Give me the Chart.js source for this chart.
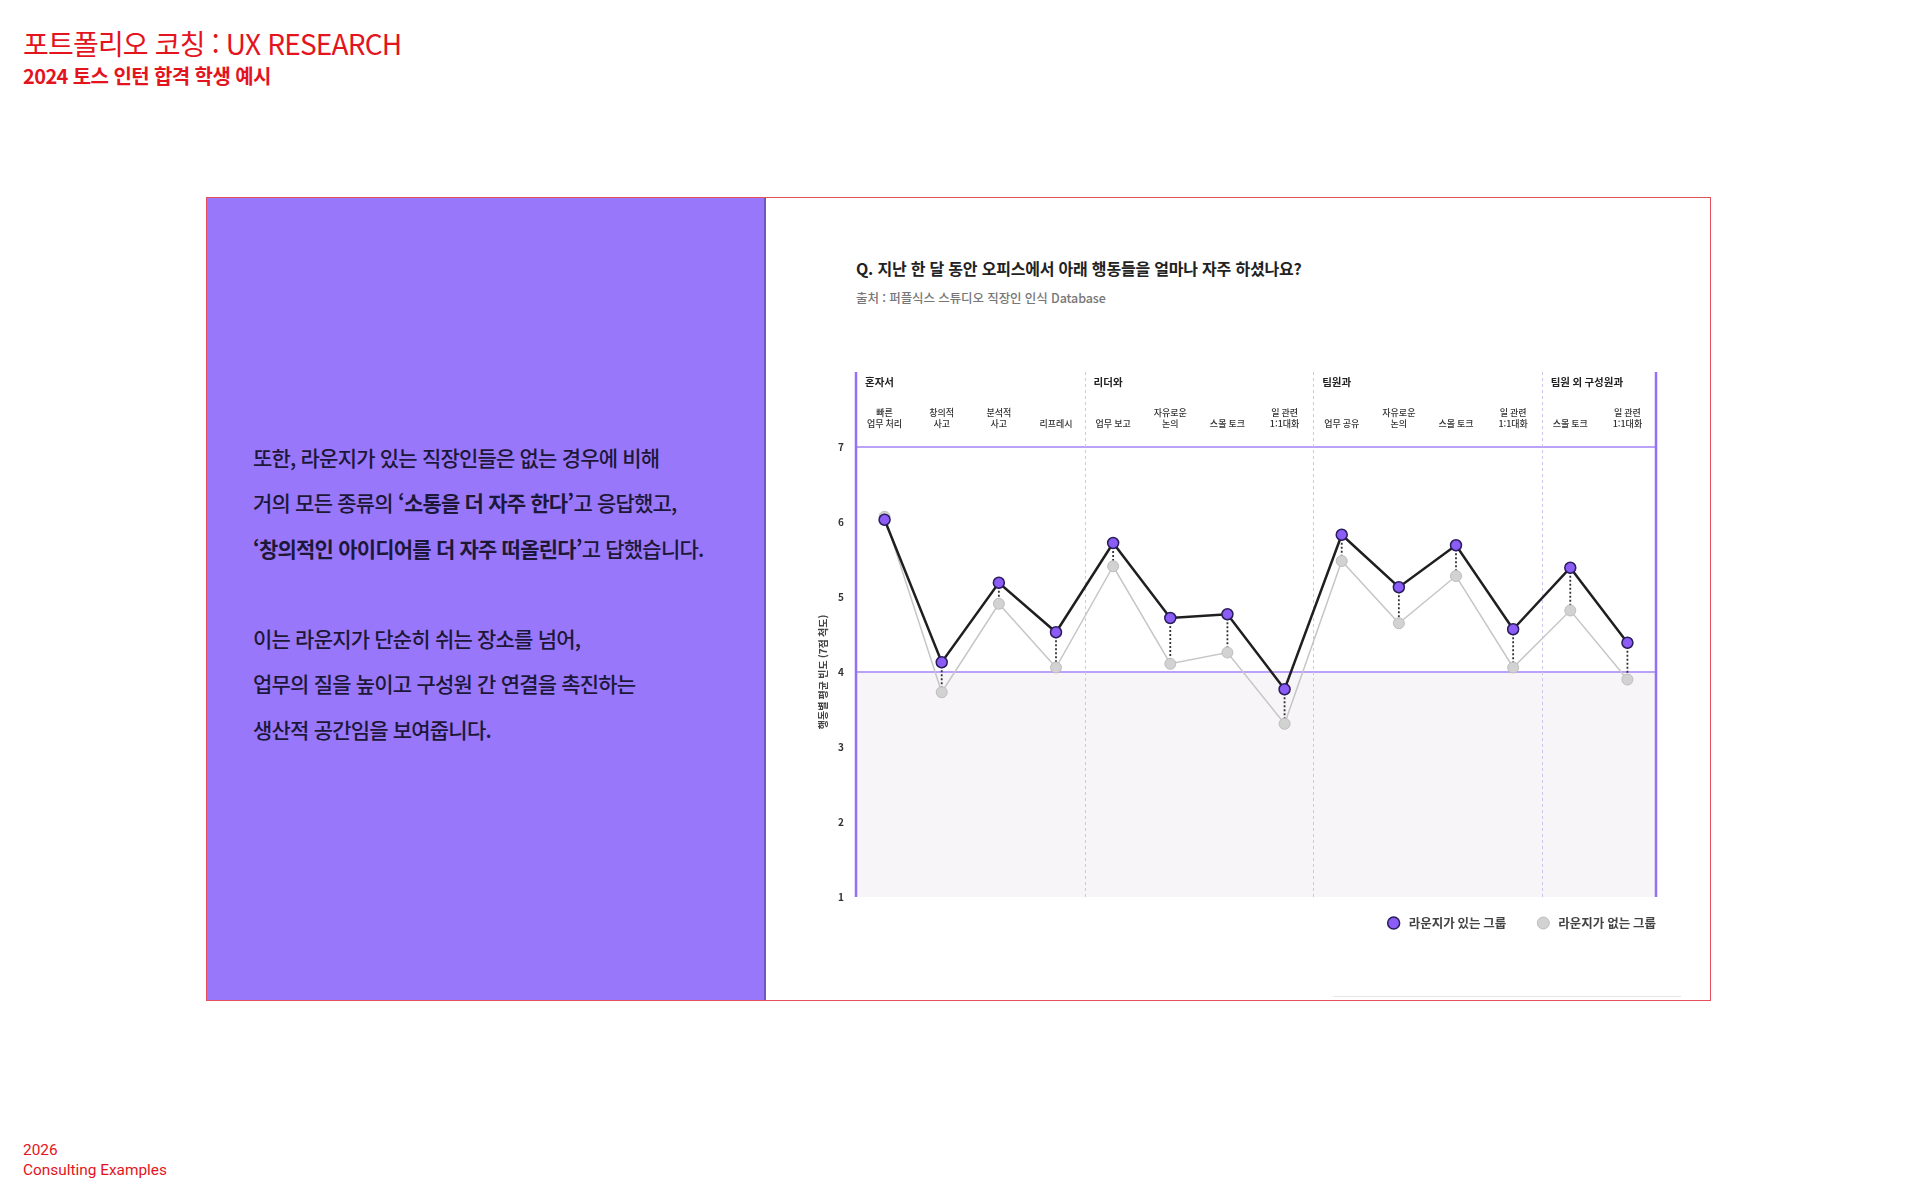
<!DOCTYPE html>
<html lang="ko">
<head>
<meta charset="utf-8">
<title>포트폴리오 코칭 : UX RESEARCH</title>
<script src="https://cdn.jsdelivr.net/npm/chart.js@4.4.1/dist/chart.umd.min.js"></script>
<style>
  html, body { margin: 0; padding: 0; background: #fff; }
  body {
    width: 1919px; height: 1199px; position: relative; overflow: hidden;
    font-family: "Noto Sans CJK KR", "Noto Sans", sans-serif;
  }
  .head { position: absolute; left: 23px; top: 23px; color: #e3141d; }
  .head h1 { margin: 0; font-size: 28px; font-weight: 400; letter-spacing: -0.8px; line-height: 40px; }
  .head h2 { margin: 0; font-size: 20px; font-weight: 700; letter-spacing: -0.6px; line-height: 26px; }
  .foot {
    position: absolute; left: 23px; top: 1141px; color: #e3141d;
    font-family: Roboto, "Noto Sans", sans-serif; font-size: 15.4px; line-height: 19.5px;
  }
  .panel {
    position: absolute; left: 206px; top: 197px; width: 1505px; height: 804px;
    border: 1px solid #e4505c; box-sizing: border-box; background: #fff;
  }
  .side {
    position: absolute; left: 0; top: 0; width: 559px; height: 100%;
    background: #9977fb; border-right: 2px solid #6d57c2; box-sizing: border-box;
  }
  .side p {
    position: absolute; left: 46px; top: 237px; margin: 0;
    font-size: 21px; font-weight: 500; letter-spacing: -0.8px; line-height: 45.3px;
    color: #1d1838; white-space: nowrap;
  }
  .side b { font-weight: 700; }
  .qtitle {
    position: absolute; left: 649px; top: 58px; margin: 0;
    font-size: 16px; font-weight: 700; color: #222; letter-spacing: -0.2px; line-height: 24px;
  }
  .qsrc {
    position: absolute; left: 649px; top: 91px; margin: 0;
    font-size: 12.5px; font-weight: 500; color: #777; letter-spacing: -0.1px; line-height: 18px;
  }
  .rule { position: absolute; left: 1126px; top: 798px; width: 348px; height: 1px; background: #e6e6e6; }
  #chart { position: absolute; left: 800px; top: 360px; }
</style>
</head>
<body>
<div class="head">
  <h1>포트폴리오 코칭 : UX RESEARCH</h1>
  <h2>2024 토스 인턴 합격 학생 예시</h2>
</div>

<div class="panel">
  <div class="side">
    <p>또한, 라운지가 있는 직장인들은 없는 경우에 비해<br>
    거의 모든 종류의 <b>‘소통을 더 자주 한다’</b>고 응답했고,<br>
    <b>‘창의적인 아이디어를 더 자주 떠올린다’</b>고 답했습니다.<br>
    <br>
    이는 라운지가 단순히 쉬는 장소를 넘어,<br>
    업무의 질을 높이고 구성원 간 연결을 촉진하는<br>
    생산적 공간임을 보여줍니다.</p>
  </div>
  <p class="qtitle">Q. 지난 한 달 동안 오피스에서 아래 행동들을 얼마나 자주 하셨나요?</p>
  <p class="qsrc">출처 : 퍼플식스 스튜디오 직장인 인식 Database</p>
  <div class="rule"></div>
</div>

<canvas id="chart" width="880" height="600"></canvas>

<div class="foot">2026<br>Consulting Examples</div>

<script>
// categories (multi-line labels) and their groups
const categories = [
  ['빠른', '업무 처리'], ['창의적', '사고'], ['분석적', '사고'], ['리프레시'],
  ['업무 보고'], ['자유로운', '논의'], ['스몰 토크'], ['일 관련', '1:1대화'],
  ['업무 공유'], ['자유로운', '논의'], ['스몰 토크'], ['일 관련', '1:1대화'],
  ['스몰 토크'], ['일 관련', '1:1대화']
];
const groupLabels = ['혼자서', '리더와', '팀원과', '팀원 외 구성원과'];
const groupStarts = [0, 4, 8, 12];

// average frequency (7-point scale)
const withLounge = [6.03, 4.13, 5.19, 4.53, 5.72, 4.72, 4.77, 3.77, 5.83, 5.13, 5.69, 4.57, 5.39, 4.39];
const withoutLounge = [6.07, 3.73, 4.91, 4.06, 5.41, 4.11, 4.26, 3.31, 5.48, 4.65, 5.28, 4.06, 4.82, 3.90];

const yTicks = [1, 2, 3, 4, 5, 6, 7];
const yTitle = '행동별 평균 빈도 (7점 척도)';
const seriesNames = ['라운지가 있는 그룹', '라운지가 없는 그룹'];

const FONT = '"Noto Sans CJK KR", "Noto Sans", sans-serif';
Chart.defaults.font.family = FONT;

const decor = {
  id: 'decor',
  beforeDraw(chart) {
    const { ctx, chartArea: a, scales: { y } } = chart;
    const y4 = y.getPixelForValue(4);
    ctx.save();
    ctx.fillStyle = '#f7f5f7';
    ctx.fillRect(a.left, y4, a.right - a.left, a.bottom - y4);
    ctx.restore();
  },
  beforeDatasetsDraw(chart) {
    const { ctx, chartArea: a, scales: { x, y } } = chart;
    ctx.save();

    // group dividers
    ctx.strokeStyle = '#cdc4ef';
    ctx.lineWidth = 1;
    ctx.setLineDash([3, 3]);
    groupStarts.slice(1).forEach(s => {
      const px = Math.round(x.getPixelForValue(s - 0.5)) + 0.5;
      ctx.beginPath();
      ctx.moveTo(px, a.top);
      ctx.lineTo(px, a.bottom);
      ctx.stroke();
    });

    // left / right frame lines
    ctx.setLineDash([]);
    ctx.strokeStyle = '#9470f7';
    ctx.lineWidth = 2.5;
    [a.left, a.right].forEach(px => {
      ctx.beginPath();
      ctx.moveTo(px, a.top);
      ctx.lineTo(px, a.bottom);
      ctx.stroke();
    });

    // dotted connectors between the two groups
    ctx.strokeStyle = '#333';
    ctx.lineWidth = 1.8;
    ctx.setLineDash([2, 2]);
    withLounge.forEach((v, i) => {
      const px = x.getPixelForValue(i);
      ctx.beginPath();
      ctx.moveTo(px, y.getPixelForValue(v));
      ctx.lineTo(px, y.getPixelForValue(withoutLounge[i]));
      ctx.stroke();
    });
    ctx.setLineDash([]);

    // group headers
    ctx.fillStyle = '#222';
    ctx.textBaseline = 'middle';
    ctx.textAlign = 'left';
    ctx.font = 'bold 10.5px ' + FONT;
    groupLabels.forEach((g, k) => {
      ctx.fillText(g, x.getPixelForValue(groupStarts[k] - 0.5) + 9, a.top + 10);
    });

    // category labels (bottom aligned)
    ctx.fillStyle = '#333';
    ctx.textAlign = 'center';
    ctx.font = '500 9px ' + FONT;
    chart.data.labels.forEach((lines, i) => {
      const px = x.getPixelForValue(i);
      lines.forEach((t, j) => {
        ctx.fillText(t, px, a.top + 52 - (lines.length - 1 - j) * 11);
      });
    });
    ctx.restore();
  },
  afterDraw(chart) {
    const { ctx, chartArea: a, scales: { y } } = chart;
    ctx.save();

    // y title, centred on the 1-7 range
    ctx.translate(a.left - 33, (y.getPixelForValue(yTicks[0]) + y.getPixelForValue(yTicks[yTicks.length - 1])) / 2);
    ctx.rotate(-Math.PI / 2);
    ctx.fillStyle = '#444';
    ctx.font = 'bold 10px ' + FONT;
    ctx.textAlign = 'center';
    ctx.textBaseline = 'middle';
    ctx.fillText(yTitle, 0, 0);
    ctx.restore();

    // legend, right aligned under the plot
    ctx.save();
    ctx.font = 'bold 12.5px ' + FONT;
    ctx.textBaseline = 'middle';
    ctx.textAlign = 'left';
    const ly = a.bottom + 26;
    let xEnd = a.right;
    chart.data.datasets.slice().reverse().forEach(ds => {
      const w = ctx.measureText(ds.label).width;
      const tx = xEnd - w;
      const cx = tx - 15;
      ctx.beginPath();
      ctx.arc(cx, ly, 6, 0, Math.PI * 2);
      ctx.fillStyle = ds.pointBackgroundColor;
      ctx.fill();
      ctx.lineWidth = ds.pointBorderWidth;
      ctx.strokeStyle = ds.pointBorderColor;
      ctx.stroke();
      ctx.fillStyle = '#444';
      ctx.fillText(ds.label, tx, ly);
      xEnd = cx - 37;
    });
    ctx.restore();
  }
};

new Chart(document.getElementById('chart'), {
  type: 'line',
  data: {
    labels: categories,
    datasets: [
      {
        label: seriesNames[0],
        data: withLounge,
        borderColor: '#1f1f1f',
        borderWidth: 2.5,
        pointBackgroundColor: '#8b5cf6',
        pointBorderColor: '#2a1d5c',
        pointBorderWidth: 1.5,
        pointRadius: 5.5,
        tension: 0
      },
      {
        label: seriesNames[1],
        data: withoutLounge,
        borderColor: '#c6c6c6',
        borderWidth: 1.5,
        pointBackgroundColor: '#d2d2d2',
        pointBorderColor: '#bdbdbd',
        pointBorderWidth: 1,
        pointRadius: 5.5,
        tension: 0
      }
    ]
  },
  options: {
    responsive: false,
    animation: false,
    events: [],
    layout: { padding: { left: 16, right: 24, top: 12, bottom: 63 } },
    plugins: { legend: { display: false }, tooltip: { enabled: false } },
    scales: {
      x: { type: 'category', offset: true, display: false },
      y: {
        min: 1,
        max: 8,
        afterBuildTicks: s => { s.ticks = yTicks.map(v => ({ value: v })); },
        afterFit: s => { s.width = 40; s.paddingTop = 0; s.paddingBottom = 0; },
        border: { display: false },
        grid: {
          drawTicks: false,
          lineWidth: 2,
          color: c => (c.tick && (c.tick.value === 4 || c.tick.value === 7)) ? '#b9a2f8' : 'rgba(0,0,0,0)'
        },
        ticks: { padding: 12, color: '#333', font: { size: 10, weight: 'bold' } }
      }
    }
  },
  plugins: [decor]
});
</script>
</body>
</html>
